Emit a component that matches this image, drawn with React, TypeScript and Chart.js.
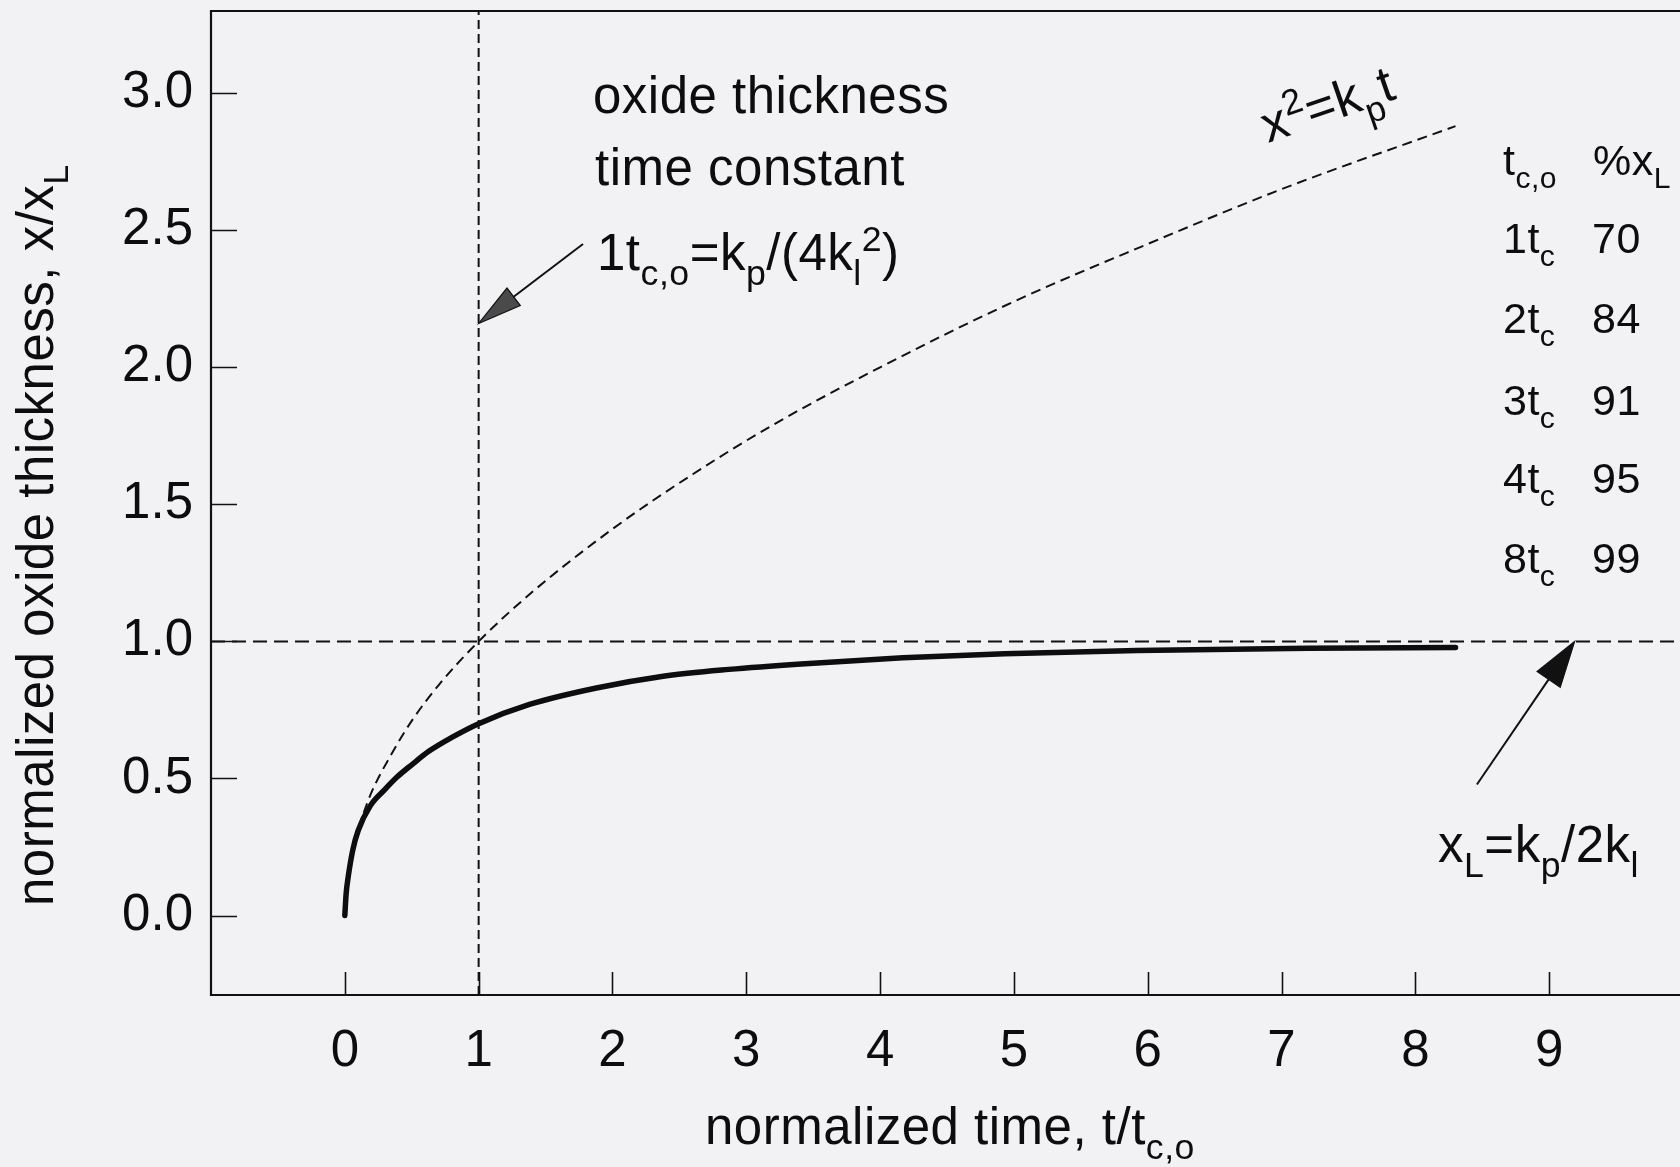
import React, { useEffect, useRef } from "react";
import { Chart, registerables } from "chart.js";

Chart.register(...registerables);

const FONT = '"Liberation Sans", Arial, Helvetica, sans-serif';

// solid curve: normalized oxide thickness x/xL versus normalized time t/tc,o
const growthTime = [0, 0.01, 0.025, 0.06, 0.1, 0.19, 0.3, 0.39, 0.5, 0.63, 0.8, 1.0, 1.38, 1.88, 2.38, 2.87, 3.41, 4.17, 4.93, 5.92, 7.2, 8.3];
const growthThickness = [0, 0.08, 0.14, 0.24, 0.31, 0.4, 0.46, 0.505, 0.55, 0.6, 0.65, 0.7, 0.77, 0.83, 0.873, 0.898, 0.918, 0.94, 0.955, 0.967, 0.975, 0.978];

// dashed parabolic curve x^2 = kp t
const parabolicTime = [0.1, 0.2, 0.35, 0.5, 0.7, 1.0, 1.4, 2.0, 2.6, 3.2, 4.0, 5.0, 6.0, 7.0, 8.3];
const parabolicThickness = [0.32, 0.45, 0.59, 0.71, 0.84, 1.0, 1.18, 1.41, 1.61, 1.79, 2.0, 2.24, 2.45, 2.65, 2.88];

// reference lines
const timeConstantX = [1, 1];
const timeConstantY = [-0.29, 3.3];
const limitX = [-1, 10];
const limitY = [1, 1];

// axes
const xTicks = [0, 1, 2, 3, 4, 5, 6, 7, 8, 9];
const xTickLabels = ["0", "1", "2", "3", "4", "5", "6", "7", "8", "9"];
const yTicks = [0, 0.5, 1, 1.5, 2, 2.5, 3];
const yTickLabels = ["0.0", "0.5", "1.0", "1.5", "2.0", "2.5", "3.0"];

// table of time constants vs % of limiting thickness
const tableTimes = ["1", "2", "3", "4", "8"];
const tablePercent = ["70", "84", "91", "95", "99"];

// arrows (data coordinates): from, to
const arrowTimeConstantFrom = [1.78, 2.45];
const arrowTimeConstantTo = [1.0, 2.16];
const arrowLimitFrom = [8.46, 0.478];
const arrowLimitTo = [9.19, 1.0];

type Seg = [string, ("sub" | "sup")?];

function drawRich(ctx: CanvasRenderingContext2D, segs: Seg[], x: number, y: number, size: number, rot = 0, ls = 0.5) {
  ctx.save();
  ctx.translate(x, y);
  ctx.rotate(rot);
  ctx.fillStyle = "#0d0d0d";
  ctx.textBaseline = "alphabetic";
  ctx.textAlign = "left";
  if ("letterSpacing" in ctx) (ctx as any).letterSpacing = ls + "px";
  let cx = 0;
  for (const [t, k] of segs) {
    const s = k ? size * 0.7 : size;
    ctx.font = `${s}px ${FONT}`;
    const dy = k === "sub" ? size * 0.3 : k === "sup" ? -size * 0.38 : 0;
    ctx.fillText(t, cx, dy);
    cx += ctx.measureText(t).width;
  }
  ctx.restore();
}

function drawArrow(ctx: CanvasRenderingContext2D, x0: number, y0: number, x1: number, y1: number, headLen: number, headHalf: number, fill: string) {
  const a = Math.atan2(y1 - y0, x1 - x0);
  const c = Math.cos(a), s = Math.sin(a);
  const bx = x1 - headLen * c, by = y1 - headLen * s;
  ctx.save();
  ctx.strokeStyle = "#111";
  ctx.lineWidth = 2;
  ctx.beginPath();
  ctx.moveTo(x0, y0);
  ctx.lineTo(bx, by);
  ctx.stroke();
  ctx.beginPath();
  ctx.moveTo(x1, y1);
  ctx.lineTo(bx + headHalf * s, by - headHalf * c);
  ctx.lineTo(bx - headHalf * s, by + headHalf * c);
  ctx.closePath();
  ctx.fillStyle = fill;
  ctx.fill();
  ctx.lineWidth = 1.2;
  ctx.stroke();
  ctx.restore();
}

const decorPlugin = {
  id: "decor",
  beforeDraw(chart: any) {
    const ctx = chart.ctx as CanvasRenderingContext2D;
    ctx.save();
    ctx.fillStyle = "#f2f2f5";
    ctx.fillRect(0, 0, chart.width, chart.height);
    ctx.restore();
  },
  afterDraw(chart: any) {
    const ctx = chart.ctx as CanvasRenderingContext2D;
    const { left, right, top, bottom } = chart.chartArea;
    const xs = chart.scales.x;
    const ys = chart.scales.y;

    // frame (left, bottom, top)
    ctx.save();
    ctx.strokeStyle = "#111";
    ctx.lineWidth = 2.2;
    ctx.beginPath();
    ctx.moveTo(right + 10, top);
    ctx.lineTo(left, top);
    ctx.lineTo(left, bottom);
    ctx.lineTo(right + 10, bottom);
    ctx.stroke();

    // inward tick marks
    ctx.lineWidth = 1.6;
    ctx.beginPath();
    for (const v of yTicks) {
      const p = Math.round(ys.getPixelForValue(v)) + 0.5;
      ctx.moveTo(left, p);
      ctx.lineTo(left + 26, p);
    }
    for (const v of xTicks) {
      const p = Math.round(xs.getPixelForValue(v)) + 0.5;
      ctx.moveTo(p, bottom);
      ctx.lineTo(p, bottom - 23);
    }
    ctx.stroke();
    ctx.restore();

    // arrows
    drawArrow(
      ctx,
      xs.getPixelForValue(arrowTimeConstantFrom[0]), ys.getPixelForValue(arrowTimeConstantFrom[1]),
      xs.getPixelForValue(arrowTimeConstantTo[0]), ys.getPixelForValue(arrowTimeConstantTo[1]),
      44, 11, "#4a4a4a"
    );
    drawArrow(
      ctx,
      xs.getPixelForValue(arrowLimitFrom[0]), ys.getPixelForValue(arrowLimitFrom[1]),
      xs.getPixelForValue(arrowLimitTo[0]), ys.getPixelForValue(arrowLimitTo[1]),
      46, 14, "#111"
    );

    // axis titles
    drawRich(ctx, [["normalized oxide thickness, x/x"], ["L", "sub"]], 53, 906, 51, -Math.PI / 2);
    drawRich(ctx, [["normalized time, t/t"], ["c,o", "sub"]], 705, 1144, 51);

    // annotations
    drawRich(ctx, [["oxide thickness"]], 593, 113, 51);
    drawRich(ctx, [["time constant"]], 595, 185, 51);
    drawRich(ctx, [["1t"], ["c,o", "sub"], ["=k"], ["p", "sub"], ["/(4k"], ["l", "sub"], ["2", "sup"], [")"]], 597, 270, 51);
    drawRich(ctx, [["x"], ["2", "sup"], ["=k"], ["p", "sub"], ["t"]], 1268, 143, 51, (-19 * Math.PI) / 180);
    drawRich(ctx, [["x"], ["L", "sub"], ["=k"], ["p", "sub"], ["/2k"], ["l", "sub"]], 1438, 862, 51);

    // table
    drawRich(ctx, [["t"], ["c,o", "sub"]], 1503, 175, 43, 0, 0.5);
    drawRich(ctx, [["%x"], ["L", "sub"]], 1593, 175, 43, 0, 0.5);
    const rowBase = [253, 333, 415, 493, 573];
    tableTimes.forEach((t, i) => {
      drawRich(ctx, [[t + "t"], ["c", "sub"]], 1503, rowBase[i], 43, 0, 0.5);
      drawRich(ctx, [[tablePercent[i]]], 1592, rowBase[i], 43, 0, 0.5);
    });
  },
};

export default function App() {
  const ref = useRef<HTMLCanvasElement | null>(null);

  useEffect(() => {
    const canvas = ref.current;
    if (!canvas) return;
    const pts = (xs: number[], ys: number[]) => xs.map((x, i) => ({ x, y: ys[i] }));
    const chart = new Chart(canvas, {
      type: "line",
      data: {
        datasets: [
          {
            label: "x = xL",
            data: pts(limitX, limitY),
            borderColor: "#111",
            borderWidth: 2,
            borderDash: [14, 7],
            pointRadius: 0,
            fill: false,
          },
          {
            label: "t = tc,o",
            data: pts(timeConstantX, timeConstantY),
            borderColor: "#111",
            borderWidth: 2,
            borderDash: [9, 5],
            pointRadius: 0,
            fill: false,
          },
          {
            label: "x^2 = kp t",
            data: pts(parabolicTime, parabolicThickness),
            borderColor: "#111",
            borderWidth: 2,
            borderDash: [10, 6],
            pointRadius: 0,
            cubicInterpolationMode: "monotone",
            fill: false,
          },
          {
            label: "oxide thickness",
            data: pts(growthTime, growthThickness),
            borderColor: "#0d0d0d",
            borderWidth: 5.5,
            borderCapStyle: "round",
            pointRadius: 0,
            cubicInterpolationMode: "monotone",
            fill: false,
          },
        ],
      },
      options: {
        animation: false,
        responsive: false,
        devicePixelRatio: 1,
        layout: { padding: { top: 11, right: 17, left: 0, bottom: 0 } },
        plugins: { legend: { display: false }, tooltip: { enabled: false }, title: { display: false } },
        scales: {
          x: {
            type: "linear",
            min: -1,
            max: 10,
            afterBuildTicks: (s: any) => {
              s.ticks = xTicks.map((v) => ({ value: v }));
            },
            afterFit: (s: any) => {
              s.height = 172;
              s.paddingLeft = 0;
              s.paddingRight = 0;
            },
            ticks: {
              autoSkip: false,
              maxRotation: 0,
              padding: 26,
              color: "#0d0d0d",
              font: { size: 51, family: FONT },
              callback: (_v: any, i: number) => xTickLabels[i],
            },
            grid: { display: false, drawTicks: false },
            border: { display: false },
          },
          y: {
            type: "linear",
            min: -0.29,
            max: 3.3,
            afterBuildTicks: (s: any) => {
              s.ticks = yTicks.map((v) => ({ value: v }));
            },
            afterFit: (s: any) => {
              s.width = 211;
              s.paddingTop = 0;
              s.paddingBottom = 0;
            },
            ticks: {
              autoSkip: false,
              padding: 18,
              color: "#0d0d0d",
              font: { size: 51, family: FONT },
              callback: (_v: any, i: number) => yTickLabels[i],
            },
            grid: { display: false, drawTicks: false },
            border: { display: false },
          },
        },
      },
      plugins: [decorPlugin],
    } as any);
    return () => chart.destroy();
  }, []);

  return (
    <div
      style={{
        position: "fixed",
        left: 0,
        top: 0,
        width: 1680,
        height: 1167,
        overflow: "hidden",
        background: "#f2f2f5",
      }}
    >
      <canvas ref={ref} width={1700} height={1167} style={{ display: "block", width: 1700, height: 1167 }} />
    </div>
  );
}
